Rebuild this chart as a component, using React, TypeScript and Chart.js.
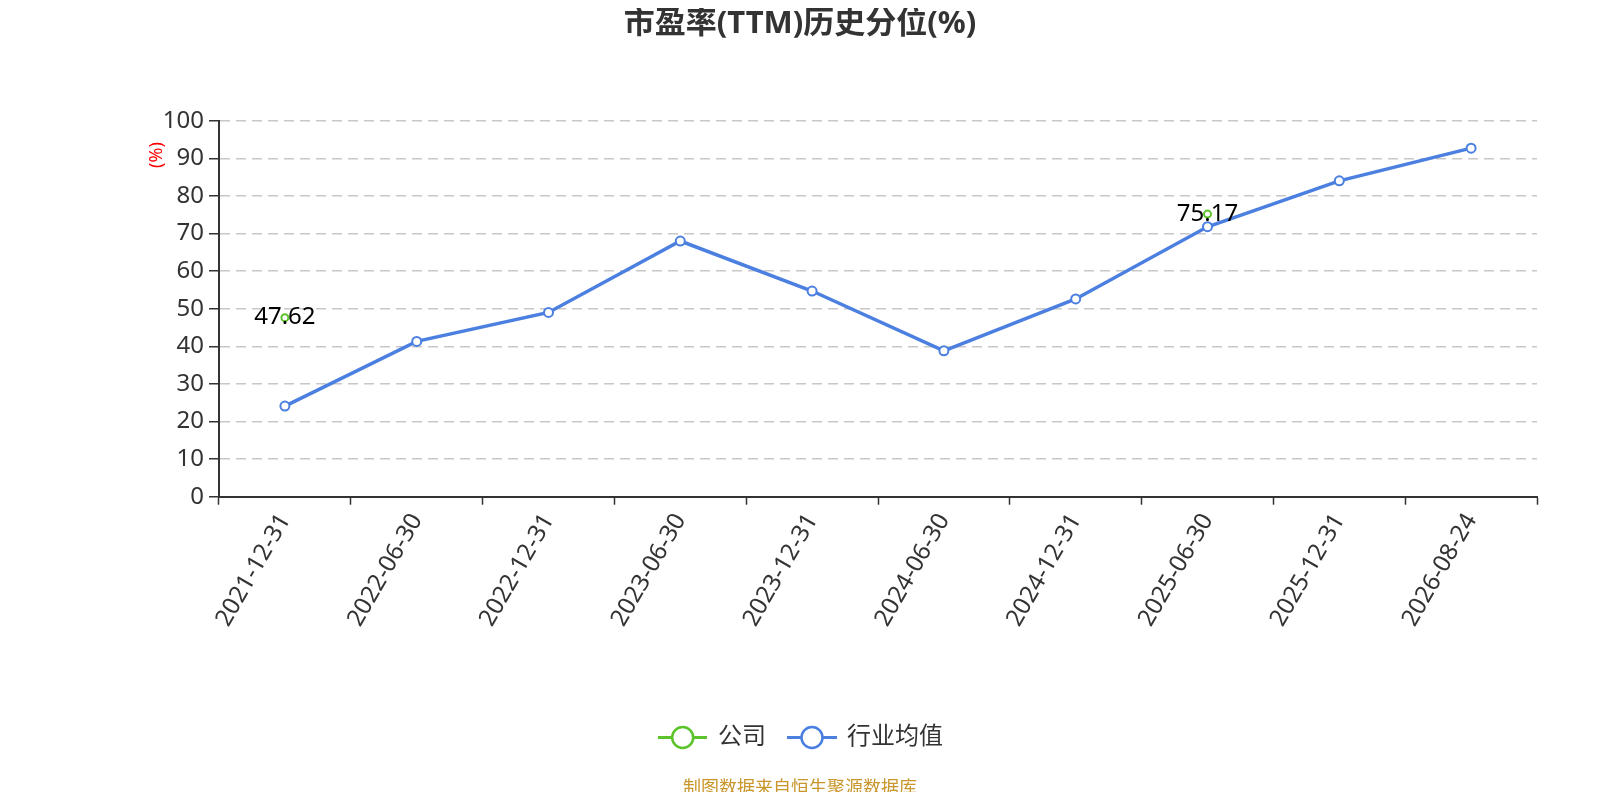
import React, { useEffect, useRef } from "react";
import { Chart, registerables } from "chart.js";

Chart.register(...registerables);

const categories = [
  "2021-12-31",
  "2022-06-30",
  "2022-12-31",
  "2023-06-30",
  "2023-12-31",
  "2024-06-30",
  "2024-12-31",
  "2025-06-30",
  "2025-12-31",
  "2026-08-24",
];
const companyValues: (number | null)[] = [47.62, null, null, null, null, null, null, 75.17, null, null];
const industryValues: number[] = [24.1, 41.3, 49.0, 68.0, 54.7, 38.8, 52.6, 71.8, 84.0, 92.7];
const seriesNames = ["公司", "行业均值"];
const titleText = "市盈率(TTM)历史分位(%)";
const yAxisTitle = "(%)";
const sourceText = "制图数据来自恒生聚源数据库";

const GREEN = "#5cc32a";
const BLUE = "#4b7fe0";
const FONT = "'Noto Sans', 'Noto Sans CJK SC', sans-serif";

const decorPlugin = {
  id: "decor",
  afterDatasetsDraw(chart: any) {
    const ctx = chart.ctx;
    ctx.save();
    const meta = chart.getDatasetMeta(0);
    ctx.font = `24px ${FONT}`;
    ctx.fillStyle = "#000";
    ctx.textAlign = "center";
    ctx.textBaseline = "middle";
    meta.data.forEach((pt: any, i: number) => {
      const v = companyValues[i];
      if (v === null || v === undefined) return;
      ctx.fillText(v.toFixed(2), pt.x, pt.y);
    });
    ctx.restore();
  },
  afterDraw(chart: any) {
    const ctx = chart.ctx;
    const w = chart.width;
    ctx.save();
    // title
    ctx.font = `bold 31px ${FONT}`;
    ctx.fillStyle = "#333";
    ctx.textAlign = "center";
    ctx.textBaseline = "middle";
    ctx.fillText(titleText, w / 2, 16);

    // y axis title
    ctx.save();
    ctx.translate(148.5, 147);
    ctx.rotate(-Math.PI / 2);
    ctx.font = `18px ${FONT}`;
    ctx.fillStyle = "#ff0000";
    ctx.fillText(yAxisTitle, 0, 0);
    ctx.restore();

    // legend
    const ly = 729.5;
    const items = [
      { color: GREEN, x0: 650, cx: 674.7, x1: 699, tx: 710, label: seriesNames[0] },
      { color: BLUE, x0: 779, cx: 804, x1: 829, tx: 839, label: seriesNames[1] },
    ];
    items.forEach((it) => {
      ctx.strokeStyle = it.color;
      ctx.lineWidth = 3;
      ctx.beginPath();
      ctx.moveTo(it.x0, ly);
      ctx.lineTo(it.x1, ly);
      ctx.stroke();
      ctx.beginPath();
      ctx.arc(it.cx, ly, 10.5, 0, Math.PI * 2);
      ctx.fillStyle = "#fff";
      ctx.fill();
      ctx.lineWidth = 2.5;
      ctx.stroke();
      ctx.font = `24px ${FONT}`;
      ctx.fillStyle = "#333";
      ctx.textAlign = "left";
      ctx.textBaseline = "middle";
      ctx.fillText(it.label, it.tx, ly);
    });

    // source
    ctx.font = `18px ${FONT}`;
    ctx.fillStyle = "#c8962a";
    ctx.textAlign = "center";
    ctx.textBaseline = "middle";
    ctx.fillText(sourceText, w / 2, 781);
    ctx.restore();
  },
};

export default function App() {
  const canvasRef = useRef<HTMLCanvasElement | null>(null);

  useEffect(() => {
    if (!canvasRef.current) return;
    const chart = new Chart(canvasRef.current, {
      type: "line",
      data: {
        labels: categories,
        datasets: [
          {
            label: seriesNames[0],
            data: companyValues,
            borderColor: GREEN,
            backgroundColor: "#fff",
            pointBackgroundColor: "#fff",
            pointBorderColor: GREEN,
            pointRadius: 3.5,
            pointBorderWidth: 2,
            borderWidth: 3,
            spanGaps: false,
            order: 0,
          },
          {
            label: seriesNames[1],
            data: industryValues,
            borderColor: BLUE,
            backgroundColor: "#fff",
            pointBackgroundColor: "#fff",
            pointBorderColor: BLUE,
            pointRadius: 4.5,
            pointBorderWidth: 2,
            borderWidth: 3.5,
            order: 1,
          },
        ],
      },
      options: {
        animation: false,
        responsive: true,
        maintainAspectRatio: false,
        layout: { padding: { left: 0, right: 55, top: 112.7, bottom: 0 } },
        plugins: {
          legend: { display: false },
          title: { display: false },
          tooltip: { enabled: false },
        },
        scales: {
          x: {
            offset: true,
            grid: {
              display: true,
              offset: true,
              drawOnChartArea: false,
              drawTicks: true,
              tickLength: 8,
              tickColor: "#333",
              tickWidth: 1.5,
            },
            border: { display: true, color: "#333", width: 2 },
            ticks: {
              autoSkip: false,
              maxRotation: 60,
              minRotation: 60,
              color: "#333",
              padding: 4,
              font: { size: 24, family: FONT },
            },
            afterFit: (scale: any) => {
              scale.height = 784 - 488.7;
            },
          },
          y: {
            min: 0,
            max: 100,
            ticks: {
              stepSize: 10,
              color: "#333",
              padding: 5,
              font: { size: 24, family: FONT },
            },
            grid: {
              color: "#c8c8c8",
              lineWidth: 1.5,
              drawTicks: true,
              tickLength: 10,
              tickColor: "#333",
              tickWidth: 1.5,
              tickBorderDash: [],
            },
            border: { display: true, color: "#333", width: 2, dash: [10, 6] },
            afterFit: (scale: any) => {
              scale.width = 211;
            },
          },
        },
      },
      plugins: [decorPlugin],
    });
    return () => chart.destroy();
  }, []);

  return (
    <div style={{ width: 1584, height: 784, position: "relative" }}>
      <canvas ref={canvasRef} />
    </div>
  );
}
